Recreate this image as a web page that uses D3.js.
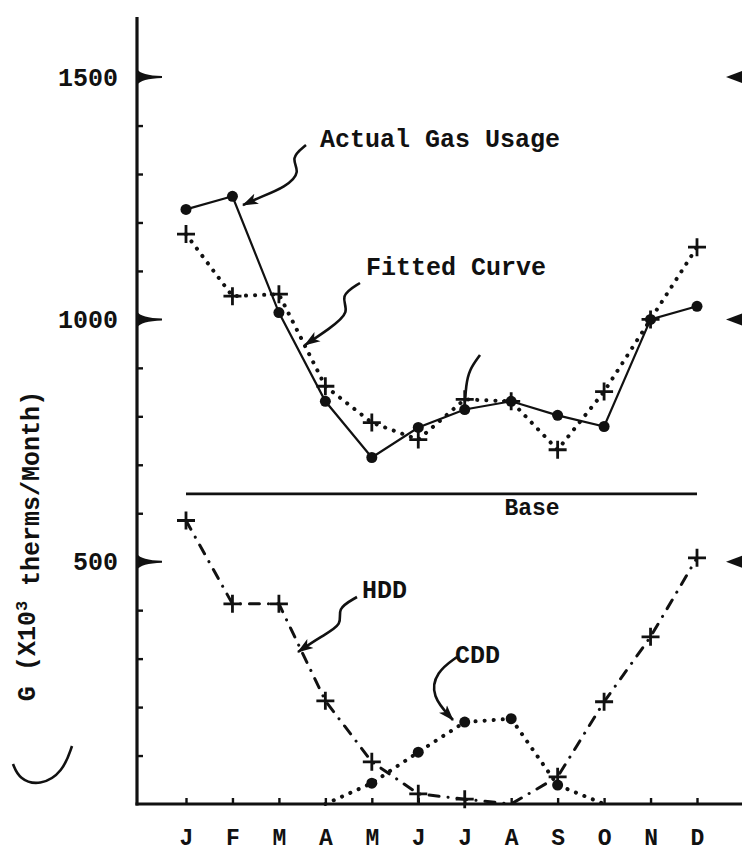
<!DOCTYPE html>
<html>
<head>
<meta charset="utf-8">
<script src="https://cdn.jsdelivr.net/npm/d3@7/dist/d3.min.js"></script>
<style>
  body { margin: 0; background: #fff; }
  text { font-family: "Liberation Mono", "DejaVu Sans Mono", monospace; font-weight: bold; fill: #111; }
</style>
</head>
<body>
<div id="chart"></div>
<script>
// values (10^3 therms / month)
const months = ["J", "F", "M", "A", "M", "J", "J", "A", "S", "O", "N", "D"];
const actualGas = [1227, 1254, 1014, 831, 715, 777, 814, 831, 802, 779, 1000, 1027];
const fittedCurve = [1176, 1048, 1052, 862, 787, 752, 835, 831, 731, 851, 1000, 1149];
const hdd = [585, 413, 413, 213, 87, 21, 10, 0, 56, 211, 345, 508];
const cdd = [null, null, null, 0, 43, 107, 169, 176, 39, 0, null, null];
const baseLoad = 640;
const majorTicks = [500, 1000, 1500];
const minorTicks = d3.range(100, 1600, 100).filter(v => v % 500 !== 0);

const width = 742, height = 857;

const x = d3.scalePoint().domain(d3.range(months.length)).range([186, 697]);
const y = d3.scaleLinear().domain([0, 1624]).range([804, 17]);

const svg = d3.select("#chart")
    .append("svg")
    .attr("width", width)
    .attr("height", height);

svg.append("defs").append("marker")
    .attr("id", "arrow")
    .attr("viewBox", "0 -6 16 12")
    .attr("refX", 15)
    .attr("refY", 0)
    .attr("markerUnits", "userSpaceOnUse")
    .attr("markerWidth", 16)
    .attr("markerHeight", 12)
    .attr("orient", "auto")
    .append("path")
    .attr("d", "M0,-5.5L16,0L0,5.5L4,0Z")
    .attr("fill", "#111");

// axes
const x0 = 137;
svg.append("line")
    .attr("x1", x0).attr("x2", x0)
    .attr("y1", y.range()[1]).attr("y2", y(0) + 1.5)
    .attr("stroke", "#111").attr("stroke-width", 3.2);

svg.append("line")
    .attr("x1", x0 - 1.5).attr("x2", width)
    .attr("y1", y(0)).attr("y2", y(0))
    .attr("stroke", "#111").attr("stroke-width", 3.2);

svg.append("g")
    .attr("transform", `translate(${x0}, 0)`)
    .call(d3.axisRight(y).tickValues(minorTicks).tickSize(6).tickFormat(""))
    .call(g => g.select(".domain").remove())
    .call(g => g.selectAll("line").attr("stroke", "#111").attr("stroke-width", 2.4));

// flared major ticks
svg.append("g")
    .selectAll("path")
    .data(majorTicks)
    .join("path")
    .attr("d", v => {
        const ty = y(v);
        return `M${x0},${ty - 8} Q${x0 + 4},${ty - 1.5} ${x0 + 25},${ty - 1} L${x0 + 25},${ty + 1} Q${x0 + 4},${ty + 1.5} ${x0},${ty + 8} Z`;
    })
    .attr("fill", "#111");

svg.append("g")
    .attr("transform", `translate(${x0}, 0)`)
    .call(d3.axisLeft(y).tickValues(majorTicks).tickSize(0).tickPadding(19).tickFormat(d3.format("d")))
    .call(g => g.select(".domain").remove())
    .call(g => g.selectAll("text").style("font-size", "25px").attr("fill", "#111"));

// marks on the right edge (partly cut off in the scan)
svg.append("g")
    .selectAll("path")
    .data(majorTicks)
    .join("path")
    .attr("d", v => `M${width},${y(v) - 6} L${width - 16},${y(v)} L${width},${y(v) + 6} Z`)
    .attr("fill", "#111");

svg.append("g")
    .attr("transform", `translate(0, ${y(0)})`)
    .call(d3.axisBottom(x).tickSizeInner(-6).tickSizeOuter(0).tickPadding(25).tickFormat(i => months[i]))
    .call(g => g.select(".domain").remove())
    .call(g => g.selectAll("line").attr("stroke", "#111").attr("stroke-width", 2.4))
    .call(g => g.selectAll("text").style("font-size", "23px").attr("fill", "#111"));

// y label
const yLabel = svg.append("text")
    .attr("transform", `translate(35, 546) rotate(-90)`)
    .attr("text-anchor", "middle")
    .style("font-size", "25px");
yLabel.append("tspan").text("G  (X10");
yLabel.append("tspan").attr("dy", "-0.5em").style("font-size", "17px").text("3");
yLabel.append("tspan").attr("dy", "0.5em").text(" therms/Month)");

// base line
svg.append("line")
    .attr("x1", x(0)).attr("x2", x(months.length - 1))
    .attr("y1", y(baseLoad)).attr("y2", y(baseLoad))
    .attr("stroke", "#111").attr("stroke-width", 2.6);

svg.append("text")
    .attr("x", 532).attr("y", y(baseLoad) + 21)
    .attr("text-anchor", "middle")
    .style("font-size", "23px")
    .text("Base");

const line = d3.line()
    .defined(d => d != null)
    .x((d, i) => x(i))
    .y(d => y(d));

const series = [
    { values: actualGas, dash: null, width: 2.2, cap: "butt", mark: "dot" },
    { values: fittedCurve, dash: "0.1 9", width: 4, cap: "round", mark: "plus" },
    { values: hdd, dash: "10 9 0.1 9", width: 3, cap: "round", mark: "plus" },
    { values: cdd, dash: "0.1 9", width: 4, cap: "round", mark: "dot" },
];

series.forEach(s => {
    svg.append("path")
        .datum(s.values)
        .attr("d", line)
        .attr("fill", "none")
        .attr("stroke", "#111")
        .attr("stroke-width", s.width)
        .attr("stroke-linecap", s.cap)
        .attr("stroke-dasharray", s.dash);

    const pts = s.values
        .map((v, i) => ({ v, i }))
        .filter(p => p.v != null && p.v > 0);

    if (s.mark === "dot") {
        svg.append("g")
            .selectAll("circle")
            .data(pts)
            .join("circle")
            .attr("cx", p => x(p.i))
            .attr("cy", p => y(p.v))
            .attr("r", 5.5)
            .attr("fill", "#111");
    } else {
        svg.append("g")
            .selectAll("path")
            .data(pts)
            .join("path")
            .attr("d", p => {
                const cx = x(p.i), cy = y(p.v), r = 9;
                return `M${cx - r},${cy}H${cx + r}M${cx},${cy - r}V${cy + r}`;
            })
            .attr("stroke", "#111")
            .attr("stroke-width", 2.8);
    }
});

// hand drawn labels and squiggly pointers
const labels = [
    { text: "Actual Gas Usage", x: 320, y: 147 },
    { text: "Fitted Curve", x: 366, y: 275 },
    { text: "HDD", x: 362, y: 598 },
    { text: "CDD", x: 455, y: 663 },
];

svg.append("g")
    .selectAll("text")
    .data(labels)
    .join("text")
    .attr("x", d => d.x)
    .attr("y", d => d.y)
    .style("font-size", "25px")
    .text(d => d.text);

const pointers = [
    { pts: [[306, 145], [290, 158], [301, 172], [286, 187], [258, 198], [243, 205]], arrow: true },
    { pts: [[360, 283], [339, 296], [351, 312], [329, 329], [305, 345]], arrow: true },
    { pts: [[357, 597], [336, 609], [344, 624], [320, 637], [298, 652]], arrow: true },
    { pts: [[457, 657], [436, 672], [431, 696], [453, 720]], arrow: true },
    { pts: [[480, 355], [469, 370], [466, 386], [465, 402]], arrow: false },
    { pts: [[72, 746], [63, 772], [40, 786], [19, 779], [13, 764]], arrow: false },
];

const squiggle = d3.line().curve(d3.curveBasis);

svg.append("g")
    .selectAll("path")
    .data(pointers)
    .join("path")
    .attr("d", d => squiggle(d.pts))
    .attr("fill", "none")
    .attr("stroke", "#111")
    .attr("stroke-width", 2.6)
    .attr("marker-end", d => d.arrow ? "url(#arrow)" : null);
</script>
</body>
</html>
